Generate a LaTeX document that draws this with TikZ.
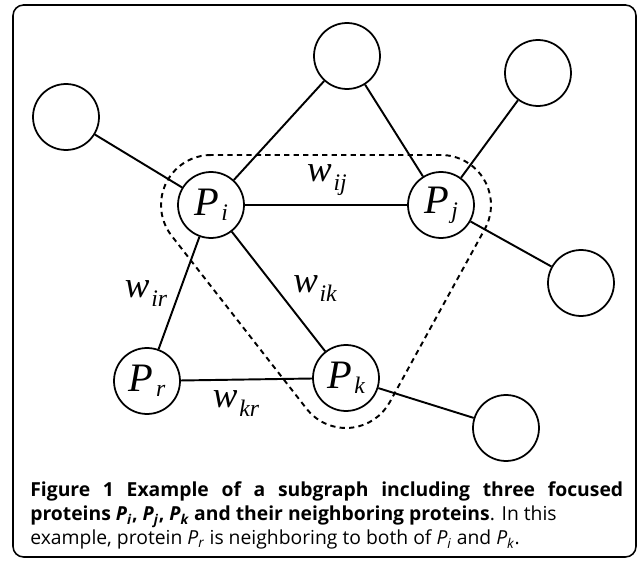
\documentclass[tikz,border=0pt]{standalone}
\usepackage{fontspec}
\newfontfamily\tms{Liberation Serif}
\newfontfamily\capfont{Open Sans}
\usetikzlibrary{positioning,calc}
\newcommand{\pn}[1]{{\tms\itshape\fontsize{23}{23}\selectfont P\kern1.5pt\raisebox{-3pt}{\fontsize{13.5}{13.5}\selectfont #1}}}
\newcommand{\wn}[1]{{\tms\itshape\fontsize{21}{21}\selectfont w\kern1pt\raisebox{-5pt}{\fontsize{13.5}{13.5}\selectfont #1}}}

\begin{document}
\begin{tikzpicture}[x=0.02cm,y=0.02cm,nd/.style={circle,draw,line width=1pt,minimum size=1.32cm,inner sep=0pt},ed/.style={line width=1.1pt},hull/.style={line width=1.1pt,dash pattern=on 3pt off 2.4pt},lb/.style={inner sep=0pt,anchor=base}]
\useasboundingbox (0,0) rectangle (637,562);
\draw[line width=0.9pt,rounded corners=6pt] (13,5) rectangle (636,557);
\node[nd] (n1) at (66,445) {};
\node[nd] (n2) at (347,506) {};
\node[nd] (n3) at (538,489) {};
\node[nd] (n4) at (581,279) {};
\node[nd] (n5) at (506,134) {};
\node[nd] (pi) at (211,357) {\pn{i}};
\node[nd] (pj) at (441,357) {\pn{j}};
\node[nd] (pr) at (147,181) {\pn{r}};
\node[nd] (pk) at (346,184) {\pn{k}};
\draw[ed] (n1) -- (pi);
\draw[ed] (n2) -- (pi);
\draw[ed] (n2) -- (pj);
\draw[ed] (n3) -- (pj);
\draw[ed] (pj) -- (n4);
\draw[ed] (pi) -- (pj);
\draw[ed] (pi) -- (pr);
\draw[ed] (pi) -- (pk);
\draw[ed] (pr) -- (pk);
\draw[ed] (pk) -- (n5);
\draw[hull] ([shift={(90:1cm)}]pi.center) arc[start angle=90,end angle=218,radius=1cm]
  -- ([shift={(218:1cm)}]pk.center) arc[start angle=218,end angle=331,radius=1cm]
  -- ([shift={(331:1cm)}]pj.center) arc[start angle=331,end angle=450,radius=1cm] -- cycle;
\node[lb] (wij) at (327,380) {\wn{ij}};
\node[lb] (wir) at (146,264) {\wn{ir}};
\node[lb] (wik) at (315,269) {\wn{ik}};
\node[lb] (wkr) at (236,154) {\wn{kr}};
\node[anchor=north west,inner sep=0pt,text width=11.86cm,align=justify,font=\capfont\fontsize{11}{13.9}\selectfont] (cap) at (30,81)
  {\textbf{Figure 1 Example of a subgraph including three focused\linebreak proteins \textit{P\textsubscript{i}}, \textit{P\textsubscript{j}}, \textit{P\textsubscript{k}} and their neighboring proteins}. In this\newline example, protein \textit{P\textsubscript{r}} is neighboring to both of \textit{P\textsubscript{i}} and \textit{P\textsubscript{k}}.};
\end{tikzpicture}
\end{document}
